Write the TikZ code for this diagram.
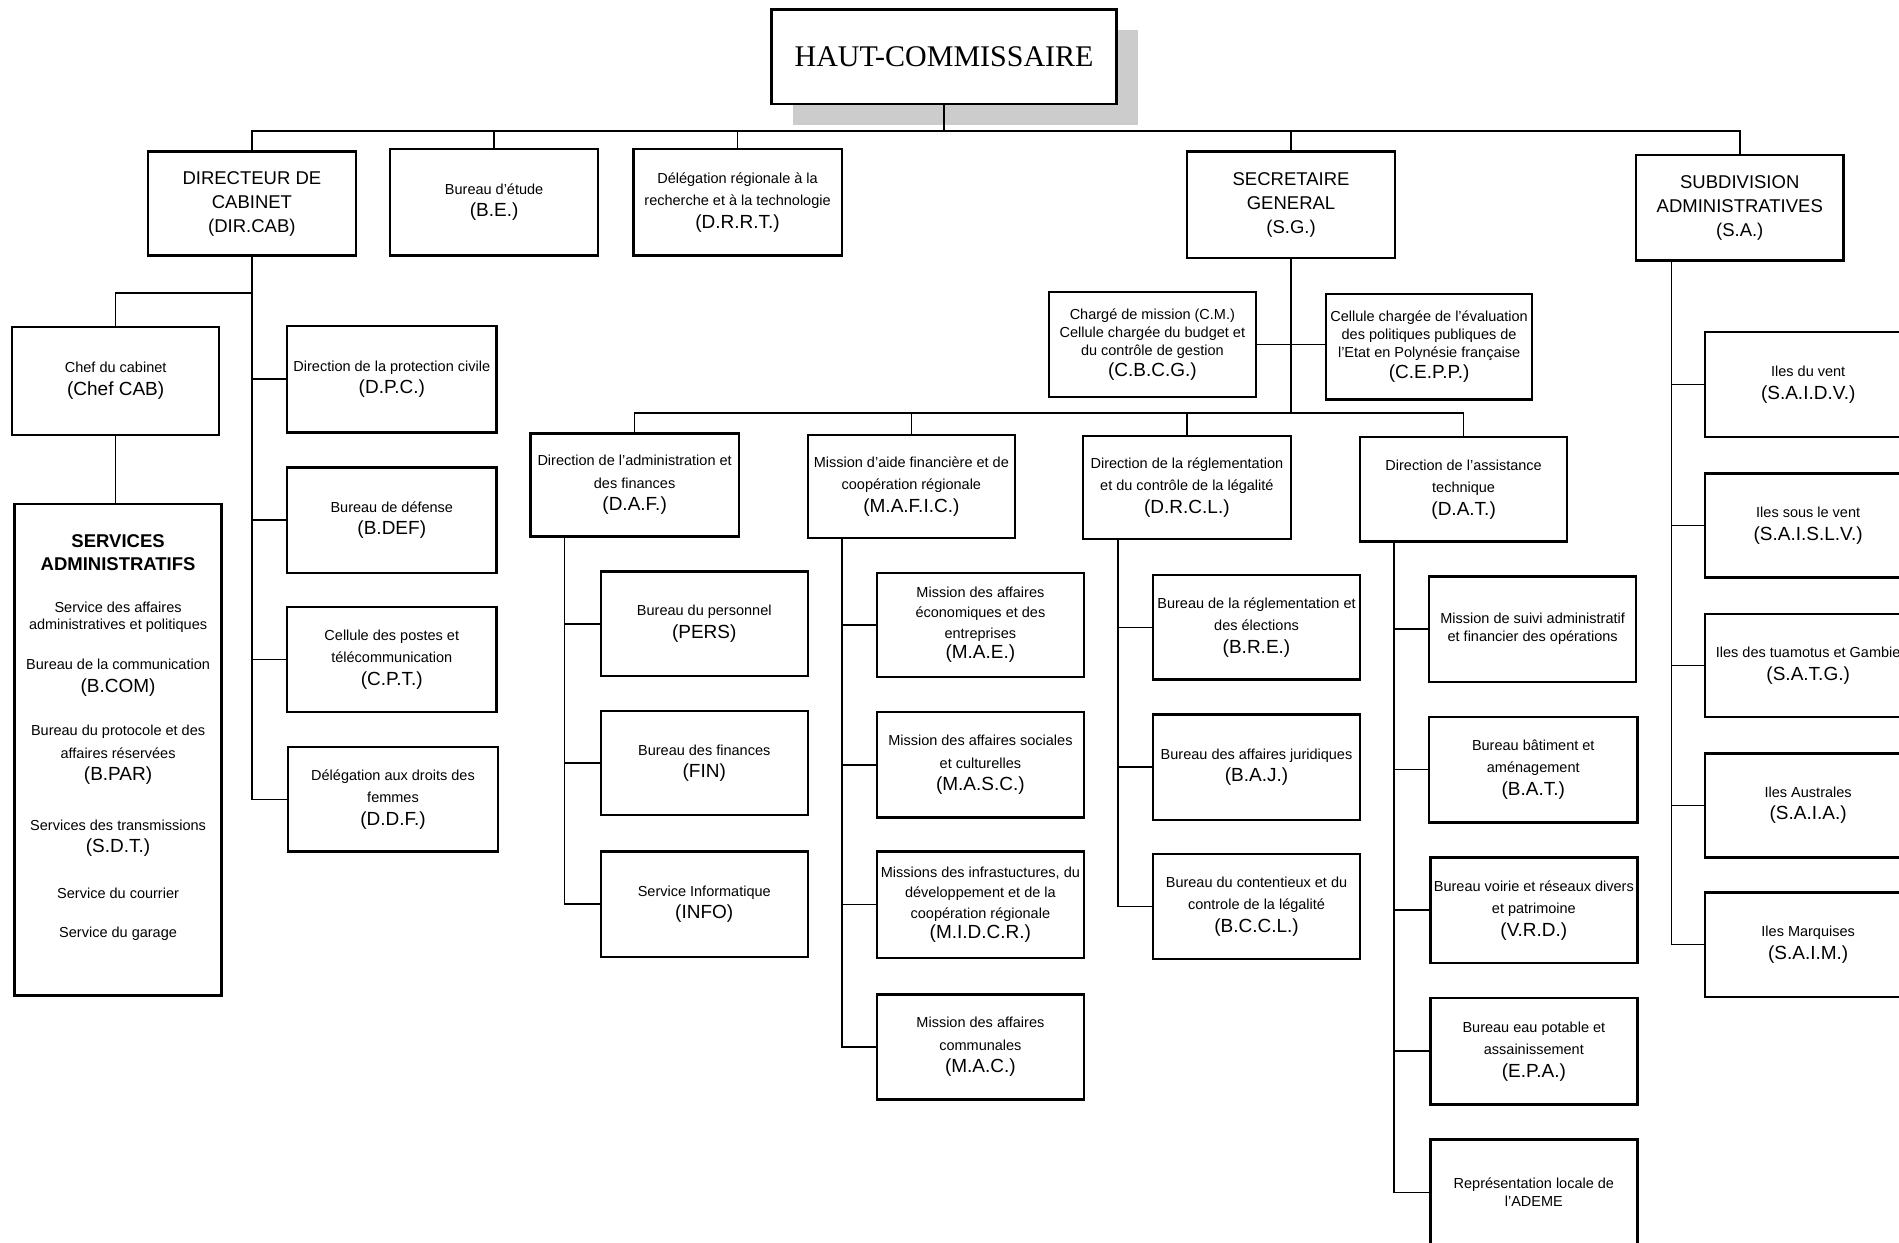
\documentclass[tikz,border=0pt]{standalone}
\usepackage{fontspec}
\setmainfont{Liberation Sans}
\newfontfamily\seriffam{Liberation Serif}
\tikzset{
  box/.style={draw, line width=2.4pt, fill=white, align=center, inner sep=1pt,
    font=\fontsize{14.5}{22.5}\selectfont},
  big/.style={font=\fontsize{18.5}{24}\selectfont},
  tight/.style={font=\fontsize{14.5}{18}\selectfont},
  mid/.style={font=\fontsize{14.5}{20.5}\selectfont},
  ln/.style={line width=1.6pt},
  svtext/.style={align=center, inner sep=0pt, font=\fontsize{14.5}{22.5}\selectfont},
}
\newcommand\ab[1]{{\fontsize{19}{22.5}\selectfont #1}}
\newcommand\bx[7][]{\node[box,#1,minimum width={(#5-#3)*1.2111pt},minimum height={(#6-#4)*1.2111pt}] (#2) at ({(#3+#5)/2},{(#4+#6)/2}) {#7};}
\begin{document}
\begin{tikzpicture}[x=1.2111pt,y=-1.2111pt]
\useasboundingbox (0,0) rectangle (1568,1026);
\clip (0,0) rectangle (1568,1026);
\fill[white] (0,0) rectangle (1568,1026);
% shadow of top box
\fill[gray!40] (655,25) rectangle (940,103);
\bx[font=\seriffam\fontsize{30}{30}\selectfont]{hc}{637}{8}{922}{86}{HAUT-COMMISSAIRE}
% level 1
\bx[big]{dircab}{122}{125}{294}{211}{DIRECTEUR DE\\CABINET\\(DIR.CAB)}
\bx{be}{322}{123}{494}{211}{Bureau d'étude\\\ab{(B.E.)}}
\bx{drrt}{523}{123}{695}{211}{Délégation régionale à la\\recherche et à la technologie\\\ab{(D.R.R.T.)}}
\bx[big]{sg}{980}{125}{1152}{213}{SECRETAIRE\\GENERAL\\(S.G.)}
\bx[big]{sa}{1351}{128}{1522}{215}{SUBDIVISION\\ADMINISTRATIVES\\(S.A.)}
% cabinet
\bx{chef}{10}{270}{181}{359}{Chef du cabinet\\\ab{(Chef CAB)}}
\bx{services}{12}{416}{183}{822}{}
\node[svtext,font=\bfseries\fontsize{18.5}{23}\selectfont] (sv1) at (97.5,456.5) {SERVICES\\ADMINISTRATIFS};
\node[svtext,font=\fontsize{14.5}{17}\selectfont] (sv2) at (97.5,510) {Service des affaires\\administratives et politiques};
\node[svtext] (sv3) at (97.5,559.5) {Bureau de la communication\\\ab{(B.COM)}};
\node[svtext] (sv4) at (97.5,623.5) {Bureau du protocole et des\\affaires réservées\\\ab{(B.PAR)}};
\node[svtext] (sv5) at (97.5,692) {Services des transmissions\\\ab{(S.D.T.)}};
\node[svtext] (sv6) at (97.5,738) {Service du courrier};
\node[svtext] (sv7) at (97.5,771) {Service du garage};
\bx{dpc}{237}{269}{410}{357}{Direction de la protection civile\\\ab{(D.P.C.)}}
\bx{bdef}{237}{386}{410}{473}{Bureau de défense\\\ab{(B.DEF)}}
\bx{cpt}{237}{501}{410}{588}{Cellule des postes et\\télécommunication\\\ab{(C.P.T.)}}
\bx{ddf}{238}{617}{411}{703}{Délégation aux droits des\\femmes\\\ab{(D.D.F.)}}
% secretariat general
\bx[tight]{cbcg}{866}{241}{1037}{328}{Chargé de mission (C.M.)\\Cellule chargée du budget et\\du contrôle de gestion\\[3pt]\ab{(C.B.C.G.)}}
\bx[tight]{cepp}{1095}{243}{1265}{330}{Cellule chargée de l'évaluation\\des politiques publiques de\\l'Etat en Polynésie française\\[3pt]\ab{(C.E.P.P.)}}
\bx{daf}{438}{358}{610}{443}{Direction de l'administration et\\des finances\\\ab{(D.A.F.)}}
\bx{mafic}{667}{359}{838}{444}{Mission d'aide financière et de\\coopération régionale\\\ab{(M.A.F.I.C.)}}
\bx{drcl}{894}{360}{1066}{445}{Direction de la réglementation\\et du contrôle de la légalité\\\ab{(D.R.C.L.)}}
\bx{dat}{1123}{361}{1294}{447}{Direction de l'assistance\\technique\\\ab{(D.A.T.)}}
\bx{pers}{496}{472}{667}{558}{Bureau du personnel\\\ab{(PERS)}}
\bx{fin}{496}{587}{667}{673}{Bureau des finances\\\ab{(FIN)}}
\bx{info}{496}{703}{667}{790}{Service Informatique\\\ab{(INFO)}}
\bx[mid]{mae}{724}{473}{895}{559}{Mission des affaires\\économiques et des\\entreprises\\\ab{(M.A.E.)}}
\bx{masc}{724}{588}{895}{675}{Mission des affaires sociales\\et culturelles\\\ab{(M.A.S.C.)}}
\bx[mid]{midcr}{724}{703}{895}{791}{Missions des infrastuctures, du\\développement et de la\\coopération régionale\\\ab{(M.I.D.C.R.)}}
\bx{mac}{724}{821}{895}{908}{Mission des affaires\\communales\\\ab{(M.A.C.)}}
\bx{bre}{952}{475}{1123}{561}{Bureau de la réglementation et\\des élections\\\ab{(B.R.E.)}}
\bx{baj}{952}{590}{1123}{677}{Bureau des affaires juridiques\\\ab{(B.A.J.)}}
\bx{bccl}{952}{705}{1123}{792}{Bureau du contentieux et du\\controle de la légalité\\\ab{(B.C.C.L.)}}
\bx[tight]{msaf}{1180}{476}{1351}{563}{Mission de suivi administratif\\et financier des opérations}
\bx{bat}{1180}{592}{1352}{679}{Bureau bâtiment et\\aménagement\\\ab{(B.A.T.)}}
\bx{vrd}{1181}{708}{1352}{795}{Bureau voirie et réseaux divers\\et patrimoine\\\ab{(V.R.D.)}}
\bx{epa}{1181}{824}{1352}{912}{Bureau eau potable et\\assainissement\\\ab{(E.P.A.)}}
\bx[tight]{ademe}{1181}{941}{1352}{1028}{Représentation locale de\\l'ADEME}
% subdivisions
\bx{saidv}{1408}{274}{1578}{361}{Iles du vent\\\ab{(S.A.I.D.V.)}}
\bx{saislv}{1408}{391}{1578}{477}{Iles sous le vent\\\ab{(S.A.I.S.L.V.)}}
\bx{satg}{1408}{507}{1578}{592}{Iles des tuamotus et Gambie\\\ab{(S.A.T.G.)}}
\bx{saia}{1408}{622}{1578}{708}{Iles Australes\\\ab{(S.A.I.A.)}}
\bx{saim}{1408}{737}{1578}{823}{Iles Marquises\\\ab{(S.A.I.M.)}}
% connectors: top level
\path (hc.south) ++(0,21) coordinate (hcbus);
\draw[ln] (hc.south) -- (hcbus);
\foreach \n in {dircab,be,drrt,sg,sa} \draw[ln] (hcbus) -| (\n.north);
% cabinet
\path (dircab.south) ++(0,30) coordinate (dcj);
\draw[ln] (dircab.south) -- (dcj) -| (chef.north);
\foreach \n in {dpc,bdef,cpt,ddf} \draw[ln] (dcj) |- (\n.west);
\draw[ln] (chef.south) -- (chef.south |- services.north);
% secretariat general
\path (sg.south) ++(0,127) coordinate (sgj);
\draw[ln] (sg.south) -- (sgj);
\draw[ln] (cbcg.east) -- (cbcg.east -| cepp.west);
\foreach \n in {daf,mafic,drcl,dat} \draw[ln] (sgj) -| (\n.north);
\foreach \n in {pers,fin,info} \draw[ln] (daf.south west) ++(29,0) |- (\n.west);
\foreach \n in {mae,masc,midcr,mac} \draw[ln] (mafic.south west) ++(29,0) |- (\n.west);
\foreach \n in {bre,baj,bccl} \draw[ln] (drcl.south west) ++(30,0) |- (\n.west);
\foreach \n in {msaf,bat,vrd,epa,ademe} \draw[ln] (dat.south west) ++(29,0) |- (\n.west);
\foreach \n in {saidv,saislv,satg,saia,saim} \draw[ln] (sa.south west) ++(30,0) |- (\n.west);
\end{tikzpicture}
\end{document}
